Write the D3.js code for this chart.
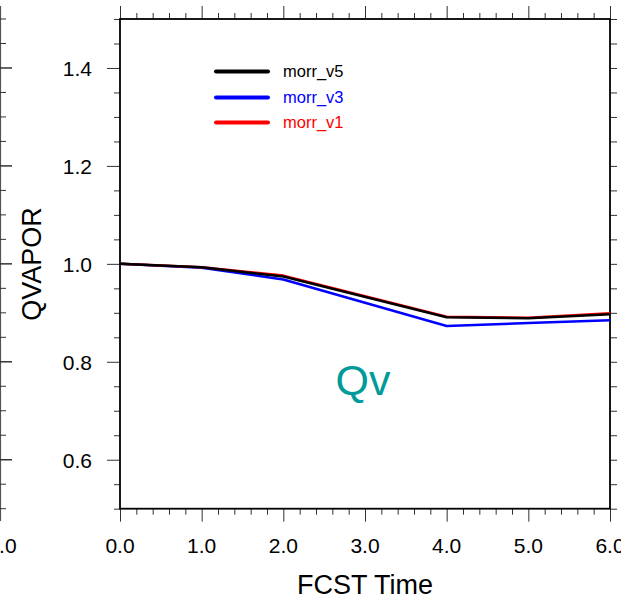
<!DOCTYPE html>
<html><head><meta charset="utf-8">
<script src="https://cdn.jsdelivr.net/npm/d3@7"></script>
<style>body{margin:0;background:#fff}svg{display:block;font-family:"Liberation Sans",Arial,Helvetica,sans-serif}</style>
</head><body>
<script>
const fcstTime = [0, 1, 2, 4, 5, 6];
const morr_v5 = [1.000, 0.993, 0.974, 0.891, 0.889, 0.897];
const morr_v3 = [1.000, 0.992, 0.968, 0.873, 0.879, 0.885];
const morr_v1 = [1.000, 0.993, 0.976, 0.892, 0.890, 0.899];
const seriesNames = ["morr_v5", "morr_v3", "morr_v1"];
const seriesColors = ["#000000", "#0000ff", "#ff0000"];
const xMajorTicks = [0, 1, 2, 3, 4, 5, 6];
const yMajorTicks = [0.6, 0.8, 1.0, 1.2, 1.4];
const xTitle = "FCST Time", yTitle = "QVAPOR", panelLabel = "Qv";

(function () {
const W = 621, H = 599;
const svg = d3.select("body").append("svg").attr("width", W).attr("height", H);
const L = 120, R = 610, T = 19, B = 508.7;
const x = d3.scaleLinear().domain([0, 6]).range([L, R]);
const y = d3.scaleLinear().domain([0.5, 1.5]).range([B, T]);

const xMinor = d3.range(0, 6.0001, 0.2).map(v => +v.toFixed(2));
const yMinor = d3.range(0.5, 1.5001, 0.05).map(v => +v.toFixed(3));
const isMajX = v => xMajorTicks.some(m => Math.abs(m - v) < 1e-6);
const isMajY = v => yMajorTicks.some(m => Math.abs(m - v) < 1e-6);

const g = svg.append("g");
// left neighbour panel fragment (its right axis)
g.append("line").attr("x1", 0.5).attr("x2", 0.5).attr("y1", 6).attr("y2", 521).attr("stroke", "#555").attr("stroke-width", 1.2);
yMinor.forEach(v => {
  g.append("line").attr("x1", 0).attr("x2", isMajY(v) ? 12 : 6).attr("y1", y(v)).attr("y2", y(v)).attr("stroke", "#333").attr("stroke-width", isMajY(v) ? 1.5 : 1);
});
g.append("text").attr("x", 2).attr("y", 553).attr("text-anchor", "middle").attr("font-size", 21).text("6.0");

const axB = d3.axisBottom(x).tickValues(xMinor).tickSize(6).tickFormat("");
g.append("g").attr("transform", `translate(0,${B})`).call(axB)
  .call(s => { s.select(".domain").remove(); s.selectAll(".tick line").attr("stroke", "#333").attr("y2", d => isMajX(d) ? 13 : 6); });
const axT = d3.axisTop(x).tickValues(xMinor).tickSize(6).tickFormat("");
g.append("g").attr("transform", `translate(0,${T})`).call(axT)
  .call(s => { s.select(".domain").remove(); s.selectAll(".tick line").attr("stroke", "#333").attr("y2", d => isMajX(d) ? -13 : -6); });
const axL = d3.axisLeft(y).tickValues(yMinor).tickSize(6).tickFormat("");
g.append("g").attr("transform", `translate(${L},0)`).call(axL)
  .call(s => { s.select(".domain").remove(); s.selectAll(".tick line").attr("stroke", "#333").attr("x2", d => isMajY(d) ? -13 : -6); });
const axR = d3.axisRight(y).tickValues(yMinor).tickSize(7).tickFormat("");
g.append("g").attr("transform", `translate(${R},0)`).call(axR)
  .call(s => { s.select(".domain").remove(); s.selectAll(".tick line").attr("stroke", "#333"); });

g.selectAll(".xl").data(xMajorTicks).enter().append("text")
  .attr("x", d => x(d)).attr("y", 553).attr("text-anchor", "middle").attr("font-size", 21)
  .text(d => d.toFixed(1));
g.selectAll(".yl").data(yMajorTicks).enter().append("text")
  .attr("x", 92).attr("y", d => y(d) + 8).attr("text-anchor", "end").attr("font-size", 21)
  .text(d => d.toFixed(1));

g.append("rect").attr("x", L).attr("y", T).attr("width", R - L).attr("height", B - T)
  .attr("fill", "none").attr("stroke", "#000").attr("stroke-width", 1.8);

g.append("text").attr("x", (L + R) / 2).attr("y", 594).attr("text-anchor", "middle").attr("font-size", 27).text(xTitle);
g.append("text").attr("transform", `translate(41,264) rotate(-90)`).attr("text-anchor", "middle").attr("font-size", 27).text(yTitle);

const line = d3.line().x((d, i) => x(fcstTime[i])).y(d => y(d));
const data = [morr_v5, morr_v3, morr_v1];
[1, 2, 0].forEach(i => {
  g.append("path").attr("d", line(data[i])).attr("fill", "none")
    .attr("stroke", seriesColors[i]).attr("stroke-width", 2.5).attr("stroke-linejoin", "round");
});

const ly = [71.5, 97.5, 122.5];
seriesNames.forEach((n, i) => {
  g.append("line").attr("x1", 216).attr("x2", 268).attr("y1", ly[i]).attr("y2", ly[i])
    .attr("stroke", seriesColors[i]).attr("stroke-width", 4).attr("stroke-linecap", "round");
  g.append("text").attr("x", 283).attr("y", ly[i] + 5.5).attr("font-size", 16.5).attr("fill", seriesColors[i]).text(n);
});

g.append("text").attr("x", 363).attr("y", 395).attr("text-anchor", "middle").attr("font-size", 43).attr("fill", "#009a9a").text(panelLabel);
})();
</script>
</body></html>
